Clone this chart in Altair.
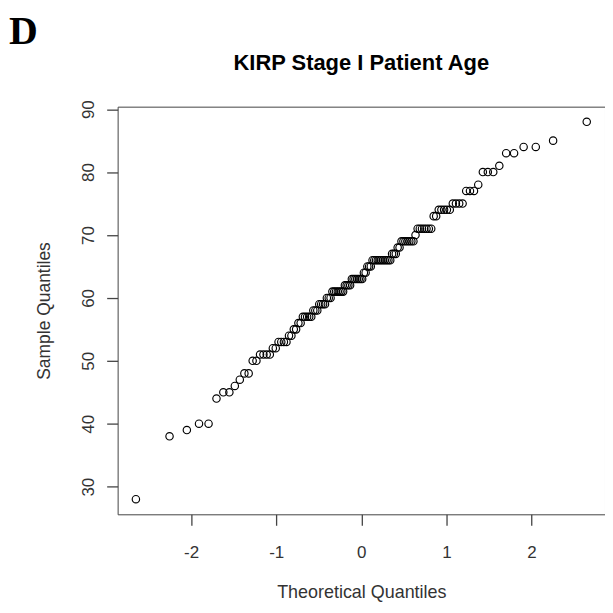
import altair as alt
import pandas as pd

# Sorted sample ages (value, number of patients at that age)
age_values = [28, 38, 39, 40, 44, 45, 46, 47, 48, 50,
              51, 52, 53, 54, 55, 56, 57, 58, 59, 60,
              61, 62, 63, 64, 65, 66, 67, 68, 69, 70,
              71, 73, 74, 75, 77, 78, 80, 81, 83, 84,
              85, 88]
age_counts = [1, 1, 1, 2, 1, 2, 1, 1, 2, 2,
              4, 2, 4, 2, 2, 2, 5, 3, 4, 3,
              7, 4, 7, 2, 3, 11, 3, 2, 7, 1,
              7, 2, 5, 4, 3, 1, 3, 1, 2, 2,
              1, 1]

x_ticks = [-2, -1, 0, 1, 2]
y_ticks = [30, 40, 50, 60, 70, 80, 90]
x_domain = [-2.864, 2.864]
y_domain = [25.6, 90.4]

panel_letter = "D"
chart_title = "KIRP Stage I Patient Age"
x_title = "Theoretical Quantiles"
y_title = "Sample Quantiles"

W, H = 489, 409
FONT = "Liberation Sans"
TXT = "#333333"

ages = [a for a, c in zip(age_values, age_counts) for _ in range(c)]
df = pd.DataFrame({"age": ages})

points = (
    alt.Chart(df)
    .transform_window(idx="row_number()", sort=[alt.SortField("age")])
    .transform_joinaggregate(n="count()")
    .transform_calculate(theo="quantileNormal((datum.idx - 0.5) / datum.n)")
    .mark_point(shape="circle", filled=False, color="black", size=55,
                strokeWidth=1.15, opacity=1)
    .encode(
        x=alt.X("theo:Q",
                scale=alt.Scale(domain=x_domain, nice=False, zero=False),
                axis=alt.Axis(values=x_ticks, labelExpr="'' + datum.value",
                              title=x_title, grid=False, domain=False,
                              tickSize=11, tickColor="#444444", tickWidth=1.3,
                              labelFont=FONT, labelFontSize=17, labelColor=TXT,
                              labelBaseline="alphabetic", labelPadding=32,
                              titleFont=FONT, titleFontSize=18,
                              titleFontWeight="normal", titleColor=TXT,
                              titleX=W / 2, titleY=78, titleAlign="center",
                              titleBaseline="middle")),
        y=alt.Y("age:Q",
                scale=alt.Scale(domain=y_domain, nice=False, zero=False),
                axis=alt.Axis(values=y_ticks, title=y_title, grid=False,
                              domain=False, tickSize=11, tickColor="#444444",
                              tickWidth=1.3, labelFont=FONT, labelFontSize=17,
                              labelColor=TXT, labelAngle=270,
                              labelAlign="center", labelBaseline="alphabetic",
                              labelPadding=13,
                              titleFont=FONT, titleFontSize=17.5,
                              titleFontWeight="normal", titleColor=TXT,
                              titleAngle=270, titleX=-73, titleY=H / 2,
                              titleAlign="center", titleBaseline="middle")),
    )
)

title_mark = (
    alt.Chart(pd.DataFrame({"t": [chart_title]}))
    .mark_text(font=FONT, fontSize=22, fontWeight="bold", color="black",
               align="center", baseline="alphabetic")
    .encode(x=alt.value(W / 2), y=alt.value(-37), text="t:N")
)

letter_mark = (
    alt.Chart(pd.DataFrame({"t": [panel_letter]}))
    .mark_text(font="Liberation Serif", fontSize=40, fontWeight="bold",
               color="black", align="left", baseline="alphabetic")
    .encode(x=alt.value(-109), y=alt.value(-63), text="t:N")
)

chart = (
    alt.layer(points, title_mark, letter_mark)
    .properties(width=W, height=H,
                autosize=alt.AutoSizeParams(type="none"),
                padding={"left": 110, "top": 98, "right": 0, "bottom": 90},
                background="white")
    .configure_view(stroke="#444444", strokeWidth=1)
)

chart.save("out.html", embed_options={"renderer": "svg", "actions": False})
